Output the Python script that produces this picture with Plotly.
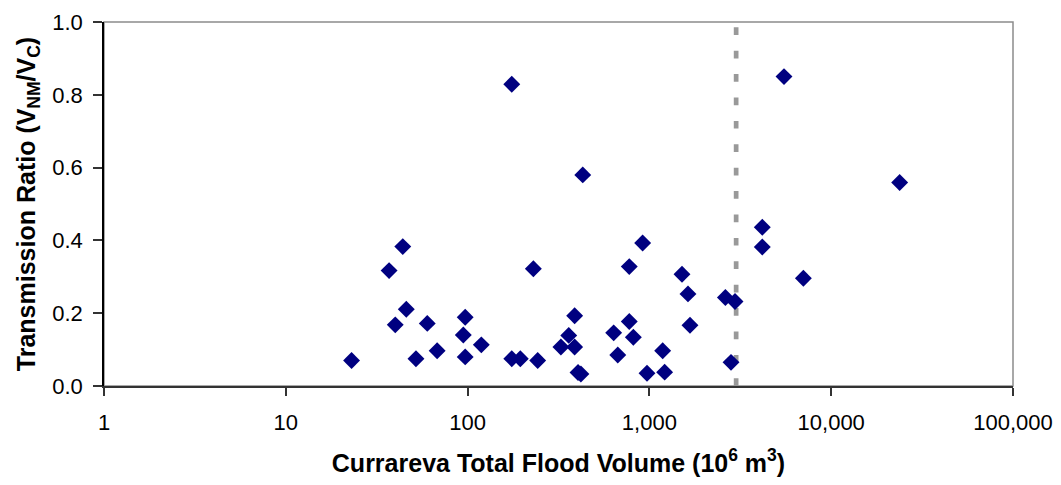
import plotly.graph_objects as go

# Currareva flood events: total flood volume (10^6 m^3) and transmission ratio V_NM / V_C
flood_volume = [
    23, 37, 40, 44, 46, 52, 60, 68, 94.7, 97, 97, 119,
    175, 175, 195, 230, 243, 326, 360, 388, 388, 405, 420, 430,
    636, 670, 775, 775, 816, 918, 970, 1183, 1213, 1511, 1630, 1672,
    2618, 2812, 2958, 4178, 4178, 5500, 7030, 23800,
]
transmission_ratio = [
    0.070, 0.317, 0.168, 0.383, 0.211, 0.075, 0.172, 0.097, 0.140, 0.189, 0.080, 0.113,
    0.829, 0.075, 0.075, 0.322, 0.070, 0.107, 0.139, 0.193, 0.107, 0.037, 0.033, 0.580,
    0.146, 0.085, 0.328, 0.177, 0.134, 0.393, 0.035, 0.097, 0.038, 0.307, 0.253, 0.167,
    0.243, 0.065, 0.232, 0.436, 0.382, 0.850, 0.296, 0.559,
]

# Volume threshold marked by the dashed vertical line
threshold_volume = 3000

x_tick_values = [1, 10, 100, 1000, 10000, 100000]
x_tick_labels = ["1", "10", "100", "1,000", "10,000", "100,000"]
y_tick_values = [0.0, 0.2, 0.4, 0.6, 0.8, 1.0]
y_tick_labels = ["0.0", "0.2", "0.4", "0.6", "0.8", "1.0"]

FONT = "Liberation Sans, Arial, sans-serif"

fig = go.Figure()

fig.add_trace(go.Scatter(
    x=flood_volume,
    y=transmission_ratio,
    mode="markers",
    marker=dict(symbol="diamond", size=13, color="#000080", line=dict(width=0)),
    showlegend=False,
    cliponaxis=False,
))

# Plot-area frame
fig.add_shape(
    type="rect", xref="paper", yref="paper", x0=0, x1=1, y0=0, y1=1,
    line=dict(color="#8c8c8c", width=1.5), layer="below",
)

# Dashed threshold line, drawn from the bottom of the axis upwards
fig.add_shape(
    type="line", xref="x", yref="y",
    x0=threshold_volume, x1=threshold_volume, y0=0, y1=1,
    line=dict(color="#999999", width=4.7, dash="7.7px,15.7px"),
    layer="below",
)

fig.update_layout(
    width=1061,
    height=485,
    margin=dict(l=104, r=48, t=22, b=99),
    paper_bgcolor="white",
    plot_bgcolor="white",
    font=dict(family=FONT, size=22, color="black"),
    xaxis=dict(
        type="log",
        range=[0, 5],
        automargin=False,
        tickvals=x_tick_values,
        ticktext=x_tick_labels,
        showgrid=False,
        zeroline=False,
        showline=True,
        linecolor="#333333",
        linewidth=2,
        ticks="outside",
        ticklen=8,
        tickcolor="#333333",
        tickwidth=1.5,
        ticklabelstandoff=8,
        tickfont=dict(family=FONT, size=22, color="black"),
        title=dict(
            text="<b>Currareva Total Flood Volume (10<sup>6</sup> m<sup>3</sup>)</b>",
            font=dict(family=FONT, size=25, color="black"),
            standoff=20,
        ),
    ),
    yaxis=dict(
        range=[0, 1],
        automargin=False,
        tickvals=y_tick_values,
        ticktext=y_tick_labels,
        showgrid=False,
        zeroline=False,
        showline=True,
        linecolor="black",
        linewidth=1.5,
        ticks="outside",
        ticklen=9,
        tickcolor="#333333",
        tickwidth=1.5,
        ticklabelstandoff=6,
        tickfont=dict(family=FONT, size=22, color="black"),
        title=dict(
            text="<b>Transmission Ratio (V<sub>NM</sub>/V<sub>C</sub>)</b>",
            font=dict(family=FONT, size=25, color="black"),
            standoff=10,
        ),
    ),
)

fig.write_html("out.html")
